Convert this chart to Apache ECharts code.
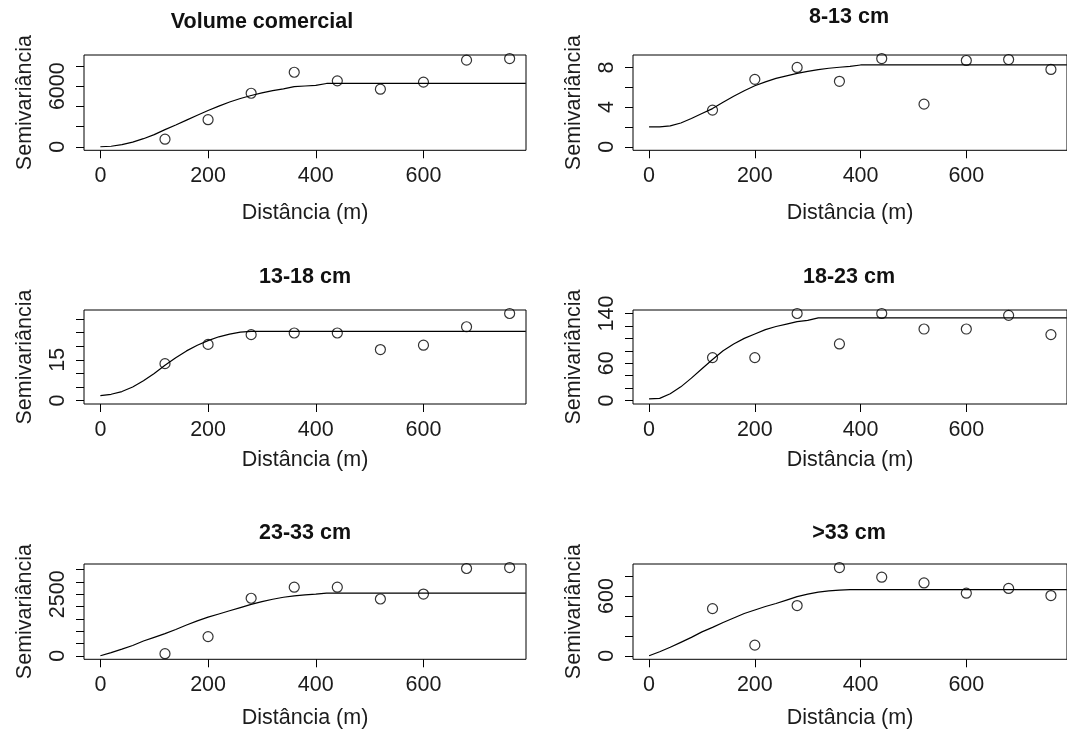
<!DOCTYPE html>
<html>
<head>
<meta charset="utf-8">
<script src="https://cdn.jsdelivr.net/npm/echarts@6/dist/echarts.min.js"></script>
<style>
  html, body { margin: 0; padding: 0; background: #ffffff; }
  #chart { width: 1067px; height: 731px; }
</style>
</head>
<body>
<div id="chart"></div>
<script>
// Experimental semivariograms by diameter class, with fitted models.
const panelTitles = ['Volume comercial', '8-13 cm', '13-18 cm', '18-23 cm', '23-33 cm', '>33 cm'];
const xTitle = 'Distância (m)';
const yTitle = 'Semivariância';

// Lag distances of the experimental points (m)
const lagDist = [120, 200, 280, 360, 440, 520, 600, 680, 760];
const maxDist = 760;

// Experimental semivariance at each lag
const gammaVolume = [750, 2680, 5300, 7380, 6530, 5700, 6400, 8580, 8740];
const gamma8to13  = [3.7, 6.8, 8.0, 6.6, 8.9, 4.3, 8.7, 8.8, 7.8];
const gamma13to18 = [13.6, 20.7, 24.3, 24.9, 24.9, 18.8, 20.4, 27.2, 32.1];
const gamma18to23 = [69, 69, 140, 91, 140, 115, 115, 137, 106];
const gamma23to33 = [84, 780, 2340, 2790, 2790, 2310, 2510, 3550, 3590];
const gammaOver33 = [474, 107, 505, 887, 790, 732, 629, 677, 605];

// Fitted model curves, sampled along distance
const curveDist = [0, 20, 40, 60, 80, 100, 120, 140, 160, 180, 200, 220, 240, 260, 280, 300, 320, 340, 360, 380, 400, 420, 440, 460, 790];
const modelVolume = [0, 50, 210, 460, 800, 1200, 1700, 2160, 2640, 3120, 3590, 4030, 4430, 4780, 5080, 5340, 5560, 5740, 5950, 6020, 6080, 6270, 6270, 6270, 6270];
const model8to13  = [2.0, 2.0, 2.1, 2.4, 2.85, 3.35, 3.85, 4.5, 5.1, 5.65, 6.15, 6.55, 6.9, 7.15, 7.4, 7.6, 7.78, 7.92, 8.02, 8.1, 8.25, 8.25, 8.25, 8.25, 8.25];
const model13to18 = [1.8, 2.3, 3.3, 5.0, 7.3, 10.0, 13.0, 15.8, 18.3, 20.4, 22.1, 23.5, 24.5, 25.2, 25.5, 25.5, 25.5, 25.5, 25.5, 25.5, 25.5, 25.5, 25.5, 25.5, 25.5];
const model18to23 = [2.5, 3.5, 11, 22, 36, 51, 66, 80, 91, 100, 107, 114, 119, 123, 127, 129, 133, 133, 133, 133, 133, 133, 133, 133, 133];
const model23to33 = [0, 130, 270, 420, 600, 750, 900, 1070, 1250, 1420, 1570, 1700, 1830, 1960, 2090, 2200, 2300, 2380, 2440, 2480, 2510, 2550, 2550, 2550, 2550];
const modelOver33 = [0, 40, 85, 135, 185, 240, 285, 335, 380, 425, 460, 495, 525, 560, 595, 620, 640, 652, 660, 665, 665, 665, 665, 665, 665];

// Axis ticks and the tick labels that are printed
const xTicks = [0, 200, 400, 600];
const yTicksVolume = [0, 2000, 4000, 6000, 8000];
const yLabelsVolume = [0, 6000];
const yTicks8to13 = [0, 2, 4, 6, 8];
const yLabels8to13 = [0, 4, 8];
const yTicks13to18 = [0, 5, 10, 15, 20, 25, 30];
const yLabels13to18 = [0, 15];
const yTicks18to23 = [0, 20, 40, 60, 80, 100, 120, 140];
const yLabels18to23 = [0, 60, 140];
const yTicks23to33 = [0, 500, 1000, 1500, 2000, 2500, 3000, 3500];
const yLabels23to33 = [0, 2500];
const yTicksOver33 = [0, 200, 400, 600, 800];
const yLabelsOver33 = [0, 600];

const panels = [
  { gamma: gammaVolume, model: modelVolume, ticks: yTicksVolume, labels: yLabelsVolume },
  { gamma: gamma8to13,  model: model8to13,  ticks: yTicks8to13,  labels: yLabels8to13 },
  { gamma: gamma13to18, model: model13to18, ticks: yTicks13to18, labels: yLabels13to18 },
  { gamma: gamma18to23, model: model18to23, ticks: yTicks18to23, labels: yLabels18to23 },
  { gamma: gamma23to33, model: model23to33, ticks: yTicks23to33, labels: yLabels23to33 },
  { gamma: gammaOver33, model: modelOver33, ticks: yTicksOver33, labels: yLabelsOver33 }
];

// Plot frames (2 columns x 3 rows); xGap = distance of the x title below the frame
const frames = [
  { left: 84,  top: 55,  width: 442, height: 95.3, tx: 262, ty: 22,    xGap: 52 },
  { left: 633, top: 55,  width: 442, height: 95.3, tx: 849, ty: 17.5,  xGap: 52 },
  { left: 84,  top: 310, width: 442, height: 94,   tx: 305, ty: 276.7, xGap: 45 },
  { left: 633, top: 310, width: 442, height: 94,   tx: 849, ty: 276.7, xGap: 45 },
  { left: 84,  top: 564, width: 442, height: 95.3, tx: 305, ty: 532.7, xGap: 48 },
  { left: 633, top: 564, width: 442, height: 95.3, tx: 849, ty: 532.7, xGap: 48 }
];

const FONT = '"Liberation Sans", Arial, sans-serif';
const INK = '#1c1c1c';
const FS = 21.5;

// 4% padding on both ends of each range
function padded(lo, hi) {
  const ext = 0.04 * (hi - lo);
  return [lo - ext, hi + ext];
}
const xRange = padded(0, maxDist);
const plain = v => String(v);

const grids = [], xAxes = [], yAxes = [], series = [], graphics = [];

panels.forEach((p, i) => {
  const f = frames[i];
  const yMax = Math.max(Math.max(...p.gamma), Math.max(...p.model));
  const yRange = padded(0, yMax);

  grids.push({
    left: f.left, top: f.top, width: f.width, height: f.height,
    show: true, borderColor: '#000', borderWidth: 1, backgroundColor: 'transparent',
    containLabel: false
  });

  xAxes.push({
    type: 'value', gridIndex: i, min: xRange[0], max: xRange[1], position: 'bottom',
    axisLine: { show: false, onZero: false },
    axisTick: { show: true, customValues: xTicks, length: 8, inside: false,
                lineStyle: { color: '#000', width: 1 } },
    axisLabel: { customValues: xTicks, formatter: plain, margin: 15,
                 fontSize: FS, fontFamily: FONT, color: INK },
    splitLine: { show: false },
    name: xTitle, nameLocation: 'middle', nameGap: f.xGap,
    nameTextStyle: { fontSize: FS, fontFamily: FONT, color: INK }
  });

  yAxes.push({
    type: 'value', gridIndex: i, min: yRange[0], max: yRange[1], position: 'left',
    axisLine: { show: false, onZero: false },
    axisTick: { show: true, customValues: p.ticks, length: 8, inside: false,
                lineStyle: { color: '#000', width: 1 } },
    axisLabel: { customValues: p.labels, formatter: plain, rotate: 90, margin: 15,
                 fontSize: FS, fontFamily: FONT, color: INK },
    splitLine: { show: false },
    name: yTitle, nameLocation: 'middle', nameGap: 48, nameRotate: 90,
    nameTextStyle: { fontSize: FS, fontFamily: FONT, color: INK }
  });

  series.push({
    type: 'line', xAxisIndex: i, yAxisIndex: i,
    data: curveDist.map((h, k) => [h, p.model[k]]),
    showSymbol: false, symbol: 'none', smooth: false,
    lineStyle: { color: '#000', width: 1.2 },
    silent: true, z: 2
  });

  series.push({
    type: 'scatter', xAxisIndex: i, yAxisIndex: i,
    data: lagDist.map((h, k) => [h, p.gamma[k]]),
    symbol: 'circle', symbolSize: 10,
    itemStyle: { color: 'rgba(0,0,0,0)', borderColor: '#000', borderWidth: 1.2 },
    silent: true, z: 3
  });

  graphics.push({
    type: 'text', x: f.tx, y: f.ty, silent: true,
    style: { text: panelTitles[i], fill: '#111', align: 'center', verticalAlign: 'middle',
             font: 'bold ' + FS + 'px ' + FONT }
  });
});

const chart = echarts.init(document.getElementById('chart'), null, { renderer: 'canvas' });
chart.setOption({
  backgroundColor: '#ffffff',
  animation: false,
  grid: grids,
  xAxis: xAxes,
  yAxis: yAxes,
  series: series,
  graphic: graphics
});
</script>
</body>
</html>
